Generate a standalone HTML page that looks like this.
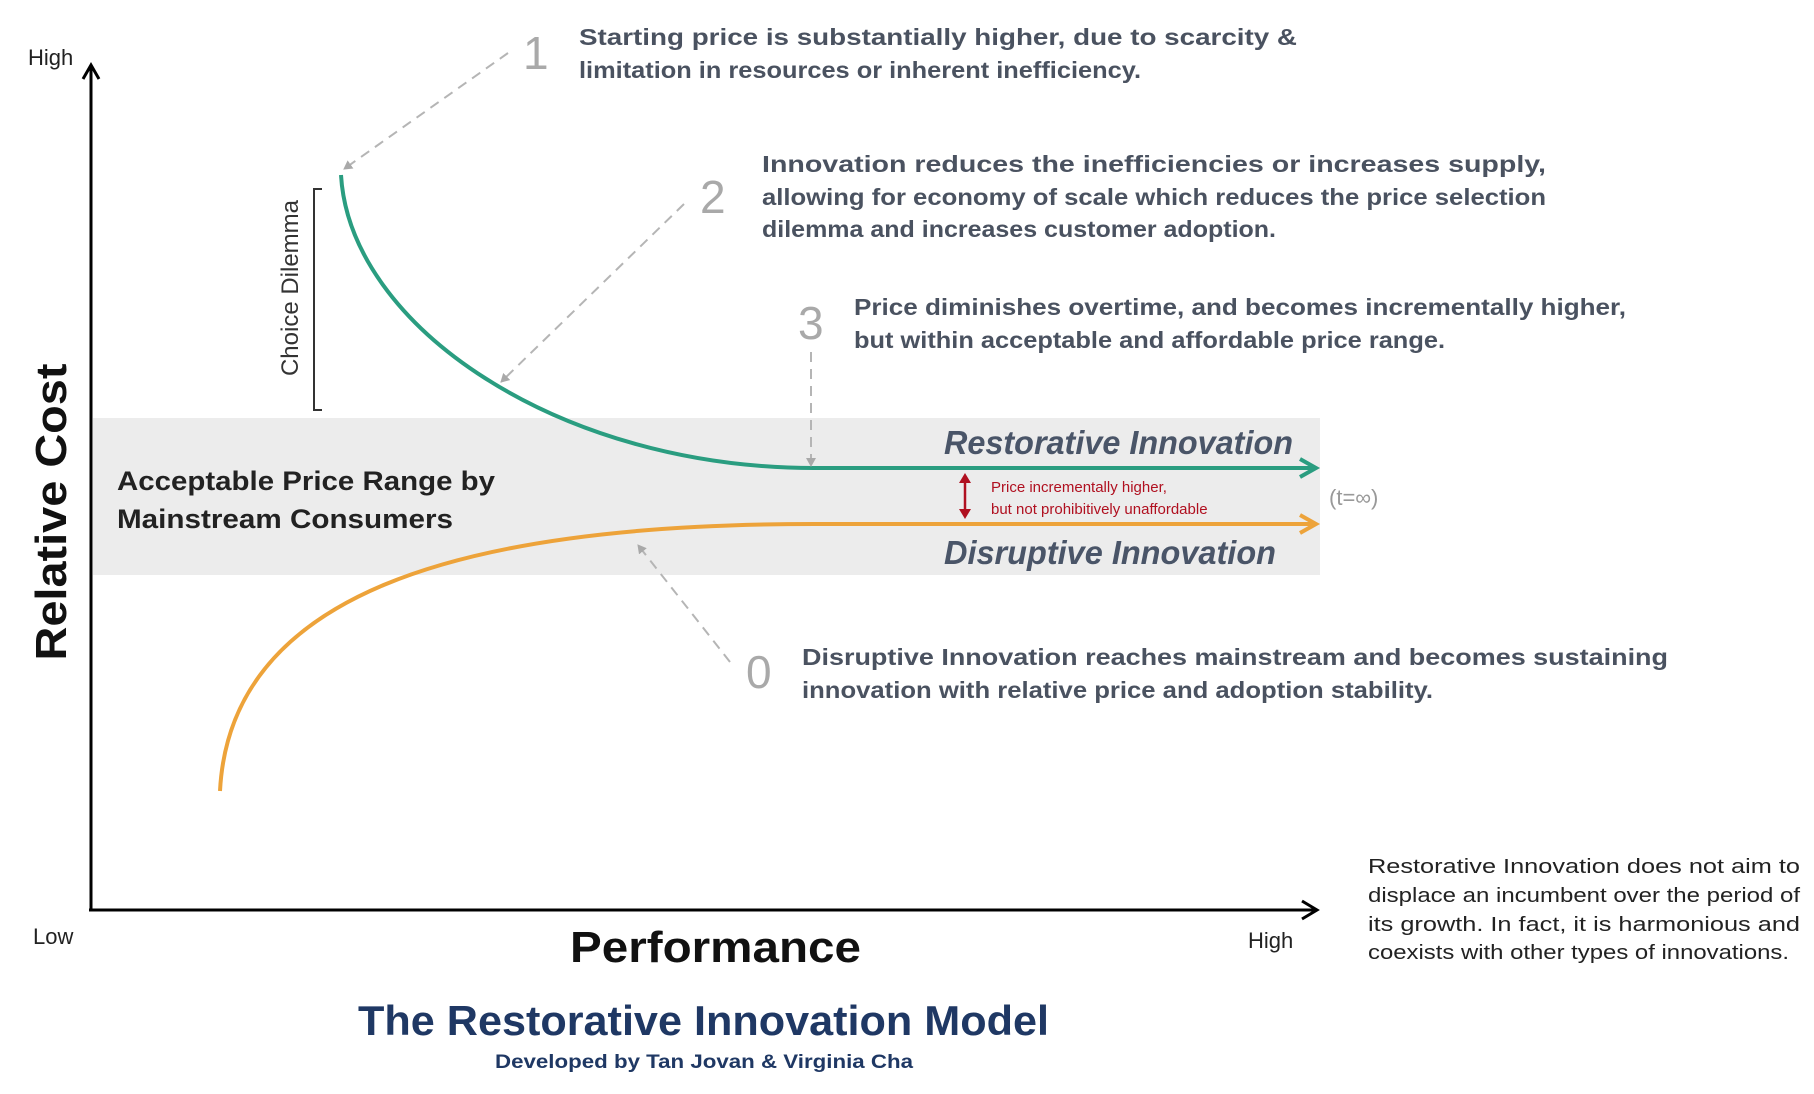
<!DOCTYPE html>
<html><head><meta charset="utf-8"><style>
html,body{margin:0;padding:0;background:#fff;}
svg{display:block;font-family:"Liberation Sans",sans-serif;}
.t{fill:#4a5260;font-size:23px;}
.n{fill:#a9a9a9;font-size:46px;}
.br{fill:#222;font-size:20px;}
</style></head><body>
<svg width="1814" height="1094" viewBox="0 0 1814 1094" xmlns="http://www.w3.org/2000/svg">
<defs>
<marker id="da" markerWidth="10" markerHeight="10" refX="8" refY="5" orient="auto" markerUnits="userSpaceOnUse"><path d="M0,0 L9,5 L0,10 z" fill="#a9a9a9"/></marker>
</defs>
<rect x="0" y="0" width="1814" height="1094" fill="#fff"/>
<g transform="translate(0,-3)">
<rect x="93" y="421" width="1227" height="157" fill="#ececec"/>
<!-- axes -->
<line x1="91" y1="913" x2="91" y2="70" stroke="#000" stroke-width="3"/>
<polyline points="83,82 91,68 99,82" fill="none" stroke="#000" stroke-width="3"/>
<line x1="89" y1="913" x2="1316" y2="913" stroke="#000" stroke-width="3"/>
<polyline points="1302,904 1317,913 1302,922" fill="none" stroke="#000" stroke-width="3"/>
<text x="28" y="68" font-size="22" fill="#222">High</text>
<text x="33" y="947" font-size="22" fill="#222">Low</text>
<text x="1248" y="951" font-size="22" fill="#222">High</text>
<text transform="translate(66,515) rotate(-90)" text-anchor="middle" font-size="44" font-weight="bold" fill="#111" textLength="297" lengthAdjust="spacingAndGlyphs">Relative Cost</text>
<text x="570" y="965" font-size="44" font-weight="bold" fill="#111" textLength="291" lengthAdjust="spacingAndGlyphs">Performance</text>
<text x="358" y="1038" font-size="42" font-weight="bold" fill="#1f3864" textLength="691" lengthAdjust="spacingAndGlyphs">The Restorative Innovation Model</text>
<text x="495" y="1071" font-size="19" font-weight="bold" fill="#1f3864" textLength="418" lengthAdjust="spacingAndGlyphs">Developed by Tan Jovan &amp; Virginia Cha</text>
<!-- choice dilemma -->
<polyline points="322,192 314,192 314,413 322,413" fill="none" stroke="#333" stroke-width="2"/>
<text transform="translate(298,291) rotate(-90)" text-anchor="middle" font-size="24" fill="#333">Choice Dilemma</text>
<!-- curves -->
<path d="M341,178 C350,330 560,471 814,471 L1312,471" fill="none" stroke="#2a9d80" stroke-width="4"/>
<polyline points="1300,462 1316,471 1300,480" fill="none" stroke="#2a9d80" stroke-width="4"/>
<path d="M220,794 C230,600 450,527 814,527 L1312,527" fill="none" stroke="#eda33a" stroke-width="4"/>
<polyline points="1300,518 1316,527 1300,536" fill="none" stroke="#eda33a" stroke-width="4"/>
<!-- red double arrow -->
<line x1="965" y1="482" x2="965" y2="516" stroke="#b01020" stroke-width="2.5"/>
<path d="M959,486 L965,476 L971,486 z M959,512 L965,522 L971,512 z" fill="#b01020"/>
<text x="991" y="495" font-size="15" fill="#b01020">Price incrementally higher,</text>
<text x="991" y="517" font-size="15" fill="#b01020">but not prohibitively unaffordable</text>
<text x="1329" y="508" font-size="22" fill="#999">(t=∞)</text>
<text x="944" y="457" font-size="33" font-weight="bold" font-style="italic" fill="#4a5568" textLength="349" lengthAdjust="spacingAndGlyphs">Restorative Innovation</text>
<text x="944" y="567" font-size="33" font-weight="bold" font-style="italic" fill="#4a5568" textLength="332" lengthAdjust="spacingAndGlyphs">Disruptive Innovation</text>
<text x="117" y="493" font-size="27" font-weight="bold" fill="#222" textLength="378" lengthAdjust="spacingAndGlyphs">Acceptable Price Range by</text>
<text x="117" y="531" font-size="27" font-weight="bold" fill="#222" textLength="336" lengthAdjust="spacingAndGlyphs">Mainstream Consumers</text>
<!-- dashed leaders -->
<g stroke="#b5b5b5" stroke-width="2" stroke-dasharray="10,7" fill="none" marker-end="url(#da)">
<line x1="508" y1="56" x2="344" y2="172"/>
<line x1="684" y1="207" x2="501" y2="385"/>
<line x1="811" y1="355" x2="811" y2="469"/>
<line x1="730" y1="665" x2="638" y2="548"/>
</g>
<!-- numbers -->
<text class="n" x="523" y="72">1</text>
<text class="n" x="700" y="216">2</text>
<text class="n" x="798" y="342">3</text>
<text class="n" x="746" y="691">0</text>
</g>
<!-- annotations -->
<g class="t" font-weight="bold">
<text x="579" y="45" textLength="718" lengthAdjust="spacingAndGlyphs">Starting price is substantially higher, due to scarcity &amp;</text>
<text x="579" y="78" textLength="562" lengthAdjust="spacingAndGlyphs">limitation in resources or inherent inefficiency.</text>
<text x="762" y="172" textLength="784" lengthAdjust="spacingAndGlyphs">Innovation reduces the inefficiencies or increases supply,</text>
<text x="762" y="205" textLength="784" lengthAdjust="spacingAndGlyphs">allowing for economy of scale which reduces the price selection</text>
<text x="762" y="237" textLength="514" lengthAdjust="spacingAndGlyphs">dilemma and increases customer adoption.</text>
<text x="854" y="315" textLength="772" lengthAdjust="spacingAndGlyphs">Price diminishes overtime, and becomes incrementally higher,</text>
<text x="854" y="348" textLength="591" lengthAdjust="spacingAndGlyphs">but within acceptable and affordable price range.</text>
<text x="802" y="665" textLength="866" lengthAdjust="spacingAndGlyphs">Disruptive Innovation reaches mainstream and becomes sustaining</text>
<text x="802" y="698" textLength="631" lengthAdjust="spacingAndGlyphs">innovation with relative price and adoption stability.</text>
</g>
<g class="br">
<text x="1368" y="873" textLength="432" lengthAdjust="spacingAndGlyphs">Restorative Innovation does not aim to</text>
<text x="1368" y="902" textLength="432" lengthAdjust="spacingAndGlyphs">displace an incumbent over the period of</text>
<text x="1368" y="931" textLength="432" lengthAdjust="spacingAndGlyphs">its growth. In fact, it is harmonious and</text>
<text x="1368" y="959" textLength="421" lengthAdjust="spacingAndGlyphs">coexists with other types of innovations.</text>
</g>
</svg>
</body></html>
